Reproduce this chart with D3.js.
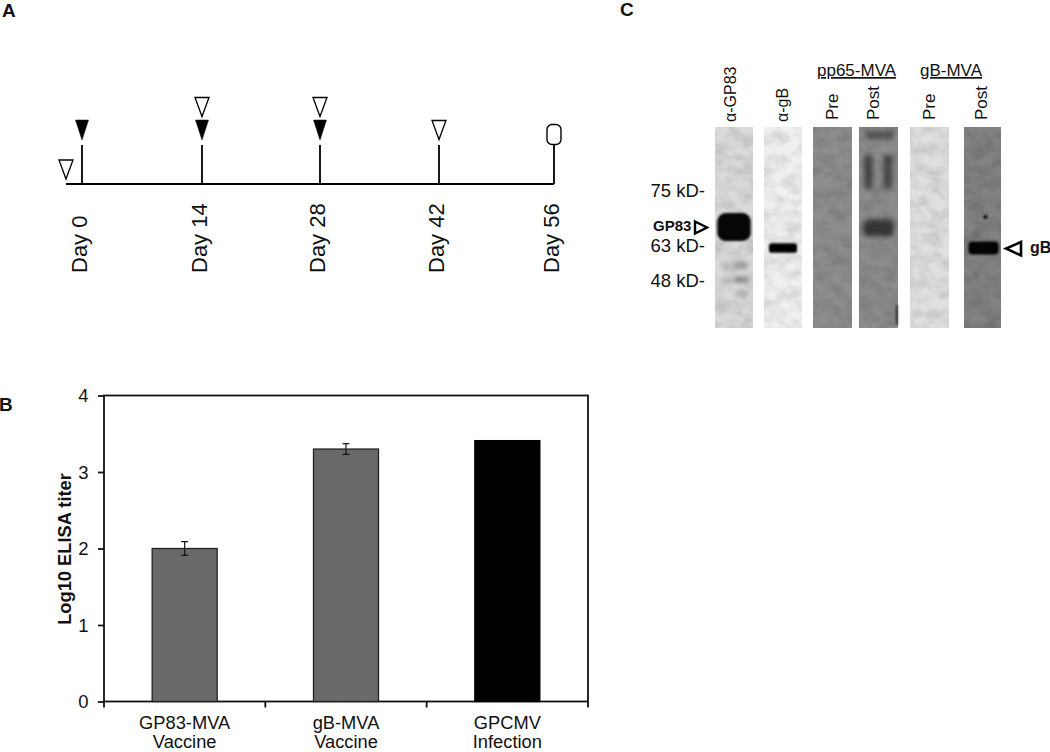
<!DOCTYPE html>
<html><head><meta charset="utf-8">
<script src="https://cdnjs.cloudflare.com/ajax/libs/d3/7.8.5/d3.min.js"></script>
<style>html,body{margin:0;padding:0;background:#fff;overflow:hidden}svg{display:block}text{font-family:"Liberation Sans",Arial,sans-serif;fill:#111}</style>
</head><body><svg id="c" width="1050" height="752"></svg>
<script>
// Panel A
const days=[0,14,28,42,56];
const dayLabels=["Day 0","Day 14","Day 28","Day 42","Day 56"];
const filledDays=[0,14,28];
const upperOpenDays=[14,28];
const lowerOpenDays=[42];
// Panel B
const categories=[["GP83-MVA","Vaccine"],["gB-MVA","Vaccine"],["GPCMV","Infection"]];
const titers=[2.0,3.3,3.41];
const titerErrors=[0.09,0.07,0];
const barColors=["#696969","#696969","#000"];
const yTicks=[0,1,2,3,4];
// Panel C
const laneNames=["α-GP83","α-gB","Pre","Post","Pre","Post"];
const laneShades=["#dadada","#f0f0f0","#8e8e8e","#8c8c8c","#e0e0e0","#828282"];
const laneIndex=[0,1,2,3,4,5];
const markers=[["75 kD-",0.348],["63 kD-",0.622],["48 kD-",0.796]];
// band: lane, position along lane (0-1), half-height, half-width fraction, offset, darkness
const bandLane=  [0,    0,    0,    0,    0,    0,    1,    3,    3,    3,    3,    3,    5,    5,    5,    5];
const bandPos=   [0.4975,0.687,0.761,0.687,0.761,0.831,0.602,0.04, 0.224,0.224,0.5025,0.935,0.602,0.448,0.736,0.537];
const bandHeight=[0.07, 0.014,0.014,0.014,0.014,0.014,0.024,0.02, 0.085,0.085,0.042,0.05, 0.032,0.01, 0.012,0.012];
const bandWidth= [0.44, 0.16, 0.16, 0.18, 0.18, 0.14, 0.37, 0.37, 0.11, 0.11, 0.39, 0.025,0.41, 0.05, 0.05, 0.03];
const bandOffset=[0,   -0.2, -0.2,  0.19, 0.19, 0.17, 0,    0.02,-0.26, 0.24, 0,    0.47, 0.03, 0.08,-0.17,-0.17];
const bandDark=  [0.97, 0.16, 0.14, 0.32, 0.42, 0.22, 1,    0.38, 0.5,  0.48, 0.6,  0.7,  0.97, 0.9,  0.4,  0.35];

const svg=d3.select("#c");
const defs=svg.append("defs");
const blur=(id,s)=>defs.append("filter").attr("id",id).attr("x","-100%").attr("y","-80%").attr("width","300%").attr("height","260%")
  .append("feGaussianBlur").attr("stdDeviation",s);
blur("b1",1);blur("b2",2.4);
const noise=defs.append("filter").attr("id","grain").attr("x",0).attr("y",0).attr("width","100%").attr("height","100%");
noise.append("feTurbulence").attr("type","fractalNoise").attr("baseFrequency","0.07 0.09").attr("numOctaves",3).attr("seed",7).attr("result","n");
noise.append("feColorMatrix").attr("in","n").attr("type","matrix").attr("values","0 0 0 0 0  0 0 0 0 0  0 0 0 0 0  0.5 0 0 0 -0.17").attr("result","a");
noise.append("feComposite").attr("in","a").attr("in2","SourceGraphic").attr("operator","in").attr("result","m");
noise.append("feMerge").selectAll("feMergeNode").data(["SourceGraphic","m"]).join("feMergeNode").attr("in",d=>d);

const letter=(t,x,y)=>svg.append("text").attr("x",x).attr("y",y).attr("font-size",19).attr("font-weight","bold").text(t);
letter("A",2,17);letter("B",-1,411);letter("C",620,16);

/* Panel A */
const xDay=d3.scaleLinear().domain(days).range([82,202,320,439,554]);
const baseY=184;
const gA=svg.append("g");
gA.append("line").attr("x1",xDay(0)-16).attr("x2",xDay(56)).attr("y1",baseY).attr("y2",baseY).attr("stroke","#000").attr("stroke-width",2);
gA.selectAll("line.s").data(days).join("line").attr("class","s").attr("x1",xDay).attr("x2",xDay).attr("y1",145).attr("y2",baseY).attr("stroke","#000").attr("stroke-width",1.8);
gA.selectAll("text").data(days).join("text").attr("font-size",22)
  .attr("transform",d=>`translate(${xDay(d)+5},273) rotate(-90)`).text((d,i)=>dayLabels[i]);
const tri=(g,x,y,fill)=>g.append("path").attr("d",fill==="#000"?`M${x-6.5},${y}H${x+6.5}L${x},${y+20}Z`:`M${x-7},${y+.5}H${x+7}L${x},${y+19.5}Z`).attr("fill",fill).attr("stroke","#000").attr("stroke-width",fill==="#000"?0.5:1.3);
filledDays.forEach(d=>tri(gA,xDay(d),120,"#000"));
upperOpenDays.forEach(d=>tri(gA,xDay(d),97,"#fff"));
lowerOpenDays.forEach(d=>tri(gA,xDay(d),120,"#fff"));
tri(gA,xDay(0)-16,159.5,"#fff");
gA.append("rect").attr("x",xDay(56)-7).attr("y",124.5).attr("width",14).attr("height",20).attr("rx",5).attr("fill","#fff").attr("stroke","#000").attr("stroke-width",1.4);

/* Panel B */
const y=d3.scaleLinear().domain([0,4]).range([701.5,395.5]);
const xTickPos=d3.scaleLinear().domain([0,3]).range([104,588]);
const gB=svg.append("g");
gB.append("rect").attr("x",xTickPos(0)).attr("y",y(4)).attr("width",xTickPos(3)-xTickPos(0)).attr("height",y(0)-y(4)).attr("fill","none").attr("stroke","#111").attr("stroke-width",1.8);
const yAxis=d3.axisLeft(y).tickValues(yTicks).tickSize(6).tickFormat(d3.format("d"));
const gy=gB.append("g").attr("transform",`translate(${xTickPos(0)},0)`).call(yAxis);
gy.select(".domain").remove();
gy.selectAll("line").attr("stroke","#111").attr("stroke-width",1.8);
gy.selectAll("text").attr("font-size",18.5).attr("x",-15.5).attr("dy","0.35em").attr("fill","#111");
gB.selectAll("line.t").data([0,1,2,3]).join("line").attr("class","t").attr("x1",xTickPos).attr("x2",xTickPos).attr("y1",y(0)).attr("y2",y(0)+6).attr("stroke","#111").attr("stroke-width",1.8);
const mid=i=>(xTickPos(i)+xTickPos(i+1))/2;
const barW=65;
gB.selectAll("rect.b").data(titers).join("rect").attr("class","b")
  .attr("x",(d,i)=>mid(i)-barW/2).attr("width",barW).attr("y",d=>y(d)).attr("height",d=>y(0)-y(d))
  .attr("fill",(d,i)=>barColors[i]).attr("stroke",(d,i)=>i<2?"#222":"#000").attr("stroke-width",1.3);
titers.forEach((v,i)=>{ if(!titerErrors[i])return;
  const e=titerErrors[i],c=mid(i);
  const s=gB.append("g").attr("stroke","#111").attr("stroke-width",1.2);
  s.append("line").attr("x1",c).attr("x2",c).attr("y1",y(v+e)).attr("y2",y(v-e));
  [v+e,v-e].forEach(w=>s.append("line").attr("x1",c-3.5).attr("x2",c+3.5).attr("y1",y(w)).attr("y2",y(w)));
});
categories.forEach((l,i)=>l.forEach((t,j)=>gB.append("text").attr("x",mid(i)).attr("y",729+j*19).attr("text-anchor","middle").attr("font-size",18.3).text(t)));
gB.append("text").attr("transform","translate(71,549) rotate(-90)").attr("text-anchor","middle").attr("font-size",18.3).attr("font-weight","bold").text("Log10 ELISA titer");

/* Panel C */
const laneX=d3.scaleOrdinal().domain(laneIndex).range([715,764,813,859,910,964]);
const laneW=d3.scaleOrdinal().domain(laneIndex).range([38,38,39,39,39,37]);
const gel=d3.scaleLinear().domain([0,1]).range([127,328]);
const gC=svg.append("g");
gC.selectAll("rect.l").data(laneIndex).join("rect").attr("class","l")
  .attr("x",laneX).attr("width",laneW).attr("y",gel(0)).attr("height",gel(1)-gel(0)).attr("fill",i=>laneShades[i]).attr("filter","url(#grain)");
bandLane.forEach((ln,k)=>{
  const cx=laneX(ln)+laneW(ln)*(0.5+bandOffset[k]);
  const hw=laneW(ln)*bandWidth[k], hh=gel(bandHeight[k])-gel(0);
  const soft=bandDark[k]<0.7;
  gC.append("rect").attr("x",cx-hw).attr("width",2*hw).attr("y",gel(bandPos[k])-hh).attr("height",2*hh)
    .attr("rx",Math.min(hw,hh)*0.6).attr("ry",Math.min(hw,hh)*0.6)
    .attr("fill","#000").attr("opacity",bandDark[k]).attr("filter",soft?"url(#b2)":"url(#b1)");
});
const laneLabelX=[736,788,838,879,935,987];
laneIndex.forEach(i=>gC.append("text").attr("font-size",i<2?16:17)
  .attr("transform",`translate(${laneLabelX[i]},${i<2?122:120}) rotate(-90)`).text(laneNames[i]));
[["pp65-MVA",817],["gB-MVA",920]].forEach(h=>gC.append("text").attr("x",h[1]).attr("y",76).attr("font-size",17).attr("text-decoration","underline").text(h[0]));
markers.forEach(m=>gC.append("text").attr("x",705).attr("text-anchor","end").attr("y",gel(m[1])).attr("font-size",18.5).text(m[0]));
gC.append("text").attr("x",653).attr("y",231).attr("font-size",15).attr("font-weight","bold").text("GP83");
gC.append("text").attr("x",1030).attr("y",253).attr("font-size",16).attr("font-weight","bold").text("gB");
gC.append("path").attr("d","M695,221.5L707,227.5L695,233.5Z").attr("fill","#fff").attr("stroke","#000").attr("stroke-width",2.4);
gC.append("path").attr("d","M1021,242L1006,248.5L1021,255.5Z").attr("fill","#fff").attr("stroke","#000").attr("stroke-width",2.6);
</script></body></html>
